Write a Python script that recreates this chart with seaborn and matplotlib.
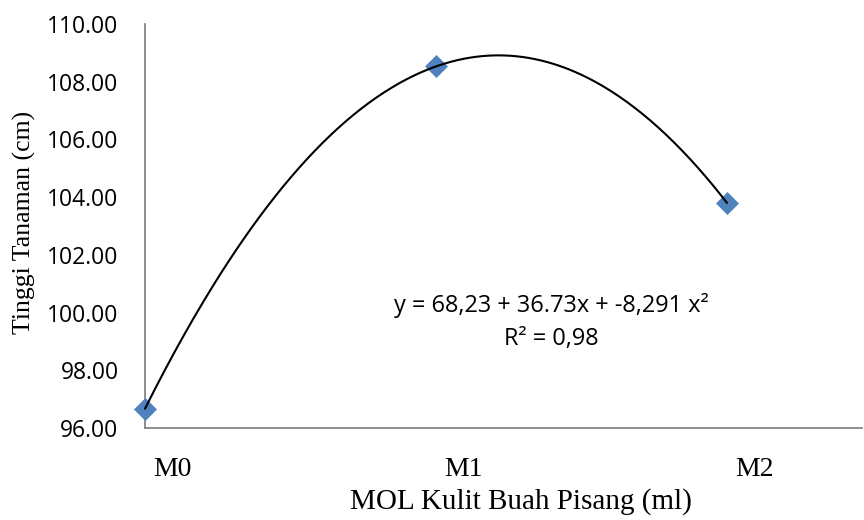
import numpy as np
import pandas as pd
import matplotlib
matplotlib.use("Agg")
import matplotlib.pyplot as plt
import seaborn as sns

# ---- data ----
treatments = ["M0", "M1", "M2"]
dose_index = [1, 2, 3]
height_cm = [96.67, 108.53, 103.80]
y_ticks = [96, 98, 100, 102, 104, 106, 108, 110]
equation_text = "y = 68,23 + 36.73x + -8,291 x²"
r2_text = "R² = 0,98"
x_title = "MOL Kulit Buah Pisang (ml)"
y_title = "Tinggi Tanaman (cm)"

sns.set_theme(style="white")
plt.rcParams["font.family"] = ["Open Sans", "DejaVu Sans"]
plt.rcParams["text.color"] = "black"
plt.rcParams["xtick.color"] = "black"
plt.rcParams["ytick.color"] = "black"
plt.rcParams["axes.labelcolor"] = "black"

W, H = 864, 520
fig = plt.figure(figsize=(W / 100, H / 100), dpi=100)
ax = fig.add_axes([145 / W, 92 / H, 717 / W, 404 / H])

df = pd.DataFrame({"dose": dose_index, "height": height_cm, "trt": treatments})

coef = np.polyfit(dose_index, height_cm, 2)
xs = np.linspace(min(dose_index), max(dose_index), 300)
sns.lineplot(x=xs, y=np.polyval(coef, xs), color="black", linewidth=1.5,
             ax=ax, zorder=4, clip_on=False)
sns.scatterplot(data=df, x="dose", y="height", marker="D", s=125,
                color="#4F81BD", edgecolor="#4F81BD", linewidth=0.5,
                ax=ax, zorder=3, clip_on=False)

ax.set_xlim(1, 1 + 717 / 291)
ax.set_ylim(96, 110)
ax.set_yticks(y_ticks)
ax.set_yticklabels([f"{v:.2f}" for v in y_ticks], fontsize=16.5,
                   family=["Open Sans", "DejaVu Sans"])
# category labels sit slightly right of their points (as in the source chart)
label_shift = 27 / 291
ax.set_xticks([d + label_shift for d in dose_index])
ax.set_xticklabels(treatments, fontsize=20, family=["Liberation Serif"])

ax.tick_params(axis="both", length=0)
ax.tick_params(axis="y", pad=19)
ax.tick_params(axis="x", pad=21)

for s in ["top", "right"]:
    ax.spines[s].set_visible(False)
for s in ["left", "bottom"]:
    ax.spines[s].set_color("#868686")
    ax.spines[s].set_linewidth(1.3)

ax.set_xlabel(x_title, fontsize=21, family=["Liberation Serif"], va="center")
ax.xaxis.set_label_coords((521 - 145) / 717, (18 - 92) / 404)
ax.set_ylabel(y_title, fontsize=18.5, family=["Liberation Serif"], va="center")
ax.yaxis.set_label_coords((24 - 145) / 717, (298 - 92) / 404)

ax.text((551 - 145) / 717, (215 - 92) / 404, equation_text, transform=ax.transAxes,
        ha="center", va="center", fontsize=16.9, family=["Open Sans", "DejaVu Sans"])
ax.text((551 - 145) / 717, (181 - 92) / 404, r2_text, transform=ax.transAxes,
        ha="center", va="center", fontsize=16.9, family=["Open Sans", "DejaVu Sans"])

ax.grid(False)
fig.savefig("out.png", dpi=100)
